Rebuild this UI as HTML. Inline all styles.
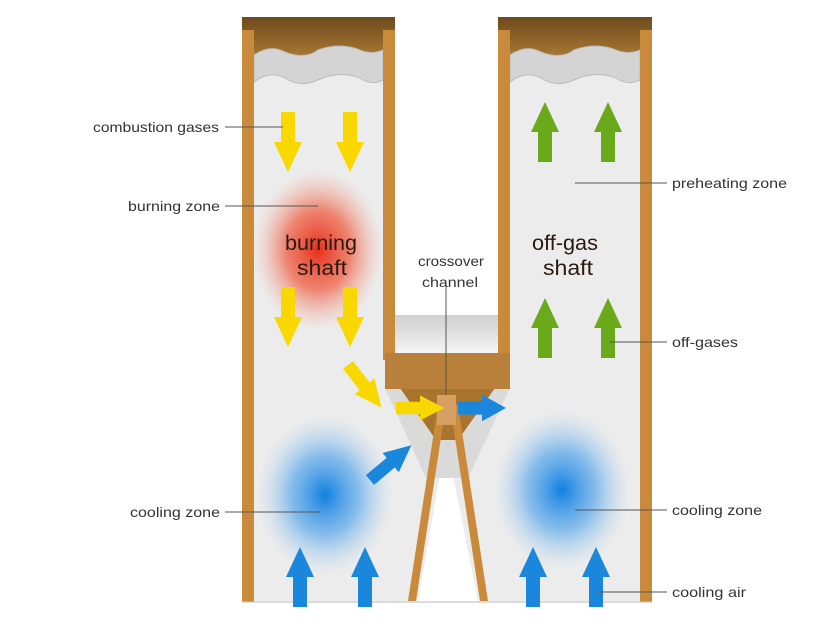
<!DOCTYPE html>
<html><head><meta charset="utf-8"><style>
html,body{margin:0;padding:0;background:#fff;}
svg{display:block}
text{font-family:"Liberation Sans",sans-serif;}
.l{font-size:14px;fill:#333;}
.b{font-size:21px;fill:#2a1a10;}
.ln{stroke:#555;stroke-width:1;}
</style></head><body>
<svg width="838" height="629" viewBox="0 0 838 629">
<defs>
<radialGradient id="red"><stop offset="0" stop-color="#e8301a"/><stop offset="0.5" stop-color="#ee6a50" stop-opacity="0.8"/><stop offset="1" stop-color="#f4b0a0" stop-opacity="0"/></radialGradient>
<radialGradient id="blue"><stop offset="0" stop-color="#1080e0"/><stop offset="0.5" stop-color="#5aa8ea" stop-opacity="0.7"/><stop offset="1" stop-color="#b0d4f0" stop-opacity="0"/></radialGradient>
<linearGradient id="cap" x1="0" y1="0" x2="0" y2="1"><stop offset="0" stop-color="#6e4a1c"/><stop offset="1" stop-color="#b88438"/></linearGradient>
<linearGradient id="win" x1="0" y1="0" x2="0" y2="1"><stop offset="0" stop-color="#cfcfcf"/><stop offset="1" stop-color="#f6f6f6"/></linearGradient>
<path id="arr" d="M-7,0 H7 V30 H14 L0,60 L-14,30 H-7 Z"/>
</defs>
<rect x="242" y="17" width="153" height="586" fill="#ececec"/>
<rect x="498" y="17" width="154" height="586" fill="#ececec"/>
<rect x="390" y="380" width="115" height="223" fill="#ececec"/>
<polygon points="446,440 418,601 478,601" fill="#ffffff"/>
<ellipse cx="318" cy="250" rx="65" ry="80" fill="url(#red)"/>
<ellipse cx="325" cy="495" rx="68" ry="80" fill="url(#blue)"/>
<ellipse cx="562" cy="490" rx="68" ry="80" fill="url(#blue)"/>
<rect x="242" y="17" width="153" height="50" fill="url(#cap)"/>
<rect x="498" y="17" width="154" height="50" fill="url(#cap)"/>
<path d="M254,55 Q270,44 285,52 Q305,60 318,50 Q340,42 360,50 Q372,55 383,50 V80 Q372,86 360,78 Q340,70 318,80 Q300,88 285,78 Q270,70 254,82 Z" fill="#d4d4d4" stroke="#bbb"/>
<path d="M510,55 Q526,44 541,52 Q561,60 574,50 Q596,42 616,50 Q628,55 640,50 V80 Q628,86 616,78 Q596,70 574,80 Q556,88 541,78 Q526,70 510,82 Z" fill="#d4d4d4" stroke="#bbb"/>
<rect x="242" y="30" width="12" height="572" fill="#c98a3c"/>
<rect x="640" y="30" width="12" height="572" fill="#c98a3c"/>
<rect x="383" y="30" width="12" height="330" fill="#c98a3c"/>
<rect x="498" y="30" width="12" height="330" fill="#c98a3c"/>
<line x1="242" y1="602" x2="652" y2="602" stroke="#ccc"/>
<rect x="395" y="315" width="103" height="40" fill="url(#win)"/>
<polygon points="385,388 510,388 468,478 426,478" fill="#dadada"/>
<polygon points="400,388 495,388 458,440 436,440" fill="#a8742e"/>
<rect x="385" y="353" width="125" height="36" fill="#b8803a"/>
<line x1="446" y1="282" x2="446" y2="400" class="ln"/>
<polygon points="438,405 446,405 416,601 408,601" fill="#c98a3c"/>
<polygon points="450,405 458,405 488,601 480,601" fill="#c98a3c"/>
<rect x="437" y="395" width="19" height="30" fill="#d8a060"/>
<g fill="#f8d800">
<use href="#arr" transform="translate(288,112)"/>
<use href="#arr" transform="translate(350,112)"/>
<use href="#arr" transform="translate(288,287)"/>
<use href="#arr" transform="translate(350,287)"/>
<use href="#arr" transform="translate(348,365) rotate(-38) scale(0.9)"/>
<use href="#arr" transform="translate(396,408) rotate(-90) scale(0.9,0.8)"/>
</g>
<g fill="#1a86dc">
<use href="#arr" transform="translate(458,408) rotate(-90) scale(0.95,0.8)"/>
<use href="#arr" transform="translate(370,480) rotate(-130) scale(0.9)"/>
<use href="#arr" transform="translate(300,607) rotate(180)"/>
<use href="#arr" transform="translate(365,607) rotate(180)"/>
<use href="#arr" transform="translate(533,607) rotate(180)"/>
<use href="#arr" transform="translate(596,607) rotate(180)"/>
</g>
<g fill="#6aaa1a">
<use href="#arr" transform="translate(545,162) rotate(180)"/>
<use href="#arr" transform="translate(608,162) rotate(180)"/>
<use href="#arr" transform="translate(545,358) rotate(180)"/>
<use href="#arr" transform="translate(608,358) rotate(180)"/>
</g>
<text class="l" x="93" y="132" textLength="126" lengthAdjust="spacingAndGlyphs">combustion gases</text><line class="ln" x1="225" y1="127" x2="283" y2="127"/>
<text class="l" x="128" y="211" textLength="92" lengthAdjust="spacingAndGlyphs">burning zone</text><line class="ln" x1="225" y1="206" x2="318" y2="206"/>
<text class="l" x="130" y="517" textLength="90" lengthAdjust="spacingAndGlyphs">cooling zone</text><line class="ln" x1="225" y1="512" x2="320" y2="512"/>
<text class="l" x="672" y="188" textLength="115" lengthAdjust="spacingAndGlyphs">preheating zone</text><line class="ln" x1="575" y1="183" x2="667" y2="183"/>
<text class="l" x="672" y="347" textLength="66" lengthAdjust="spacingAndGlyphs">off-gases</text><line class="ln" x1="610" y1="342" x2="667" y2="342"/>
<text class="l" x="672" y="515" textLength="90" lengthAdjust="spacingAndGlyphs">cooling zone</text><line class="ln" x1="575" y1="510" x2="667" y2="510"/>
<text class="l" x="672" y="597" textLength="74" lengthAdjust="spacingAndGlyphs">cooling air</text><line class="ln" x1="598" y1="592" x2="667" y2="592"/>
<text class="l" x="418" y="266" textLength="66" lengthAdjust="spacingAndGlyphs">crossover</text>
<text class="l" x="422" y="287" textLength="56" lengthAdjust="spacingAndGlyphs">channel</text>
<text class="b" x="285" y="250" textLength="72" lengthAdjust="spacingAndGlyphs">burning</text>
<text class="b" x="297" y="275" textLength="50" lengthAdjust="spacingAndGlyphs">shaft</text>
<text class="b" x="532" y="250" textLength="66" lengthAdjust="spacingAndGlyphs">off-gas</text>
<text class="b" x="543" y="275" textLength="50" lengthAdjust="spacingAndGlyphs">shaft</text>
</svg>
</body></html>
